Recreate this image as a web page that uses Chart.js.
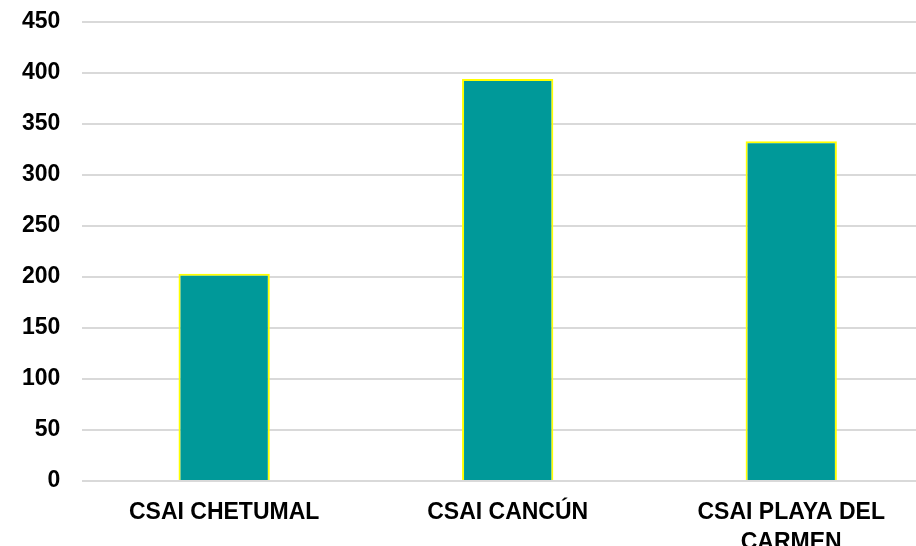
<!DOCTYPE html>
<html>
<head>
<meta charset="utf-8">
<script src="https://cdn.jsdelivr.net/npm/chart.js@4/dist/chart.umd.min.js"></script>
<style>
  html, body { margin: 0; padding: 0; background: #fff; overflow: hidden; }
  #wrap { width: 940px; height: 546px; overflow: hidden; }
  #chart { display: block; margin-top: -14px; }
</style>
</head>
<body>
<div id="wrap"><canvas id="chart" width="940" height="560"></canvas></div>
<script>
// Data
const categories = [['CSAI CHETUMAL'], ['CSAI CANCÚN'], ['CSAI PLAYA DEL', 'CARMEN']];
const values = [203, 394, 333];
const yTicks = { min: 0, max: 450, step: 50 };

const font = { family: '"Liberation Sans", Arial, sans-serif', size: 23, weight: 'bold' };

new Chart(document.getElementById('chart'), {
  type: 'bar',
  data: {
    labels: categories,
    datasets: [{
      data: values,
      backgroundColor: '#009999',
      borderColor: '#ffff00',
      borderWidth: 2,
      barPercentage: 0.322,
      categoryPercentage: 1
    }]
  },
  options: {
    responsive: false,
    animation: false,
    layout: { padding: { left: 0, top: 8, right: 7, bottom: 0 } },
    plugins: { legend: { display: false }, tooltip: { enabled: false } },
    scales: {
      x: {
        grid: { display: false },
        border: { display: false },
        ticks: { color: '#000', font: { ...font, lineHeight: 1.3 }, padding: 9, maxRotation: 0, autoSkip: false },
        afterFit: (s) => { s.height = 65; }
      },
      y: {
        min: yTicks.min, max: yTicks.max,
        grid: { color: '#d9d9d9', lineWidth: 2, drawTicks: false },
        border: { display: false },
        ticks: { stepSize: yTicks.step, color: '#000', font, padding: 22 }
      }
    }
  }
});
</script>
</body>
</html>
